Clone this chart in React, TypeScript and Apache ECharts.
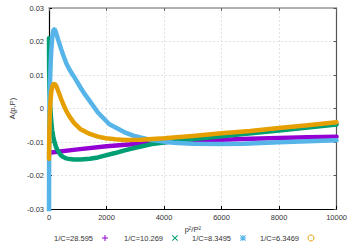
import React, { useEffect, useRef } from "react";
import * as echarts from "echarts";

const seriesNames = ["1/C=28.595", "1/C=10.269", "1/C=8.3495", "1/C=6.3469"];
const seriesColors = ["#9400d3", "#009e73", "#56b4e9", "#e69f00"];

const purpleP2 = [0, 1000, 2000, 3000, 4000, 5000, 6000, 7000, 8000, 9000, 10000];
const purpleA = [-0.0132, -0.0122, -0.0113, -0.0106, -0.01, -0.0096, -0.0093, -0.009, -0.0088, -0.0086, -0.0084];

const greenP2 = [0, 5, 15, 40, 70, 110, 150, 190, 240, 300, 360, 420, 500, 600, 720, 870, 1100, 1420, 1700, 1970, 2300, 2630, 3000, 3650, 4600, 5500, 6770, 8000, 9000, 10000];
const greenA = [0.021, 0.012, 0.006, 0.001, -0.003, -0.0065, -0.0085, -0.01, -0.0114, -0.0125, -0.0133, -0.014, -0.0145, -0.0149, -0.0151, -0.0152, -0.0152, -0.015, -0.0146, -0.014, -0.0133, -0.0125, -0.0117, -0.0105, -0.0095, -0.0087, -0.0076, -0.0066, -0.0057, -0.0048];

const blueP2 = [0, 3, 8, 15, 25, 40, 60, 80, 100, 120, 140, 160, 180, 210, 250, 320, 420, 500, 600, 720, 870, 1100, 1250, 1420, 1700, 2100, 2630, 3000, 3500, 4320, 5000, 6000, 6770, 8000, 9000, 10000];
const blueA = [-0.036, -0.02, -0.008, 0.0, 0.005, 0.009, 0.014, 0.0175, 0.0198, 0.0217, 0.0228, 0.0234, 0.0236, 0.0234, 0.0225, 0.0205, 0.0178, 0.0158, 0.0135, 0.0115, 0.0095, 0.0062, 0.0042, 0.0022, -0.0012, -0.0047, -0.0071, -0.0083, -0.0093, -0.0102, -0.0105, -0.0106, -0.0105, -0.0101, -0.0098, -0.0095];

const orangeP2 = [0, 5, 15, 30, 50, 80, 120, 150, 180, 210, 250, 320, 420, 500, 600, 720, 870, 1100, 1420, 1700, 1970, 2300, 2630, 3200, 4000, 5000, 6000, 7000, 8000, 9000, 10000];
const orangeA = [-0.015, -0.012, -0.006, -0.001, 0.002, 0.005, 0.0067, 0.0072, 0.0073, 0.0072, 0.0068, 0.0052, 0.0029, 0.0012, -0.0007, -0.0025, -0.0043, -0.0062, -0.0076, -0.0084, -0.0089, -0.0092, -0.0094, -0.0093, -0.0089, -0.0082, -0.0074, -0.0067, -0.0058, -0.005, -0.0041];

const xTicks = { min: 0, max: 10000, interval: 2000 };
const yTicks = { min: -0.03, max: 0.03, interval: 0.01 };
const legendLefts = [54, 124, 192, 260];

const legendIcons = [
  "path://M0,2.5h6v1h-6z M2.5,0h1v6h-1z",
  "path://M0,0.7L0.7,0L6,5.3L5.3,6Z M5.3,0L6,0.7L0.7,6L0,5.3Z",
  "path://M0,2.5h6v1h-6z M2.5,0h1v6h-1z M0,0.7L0.7,0L6,5.3L5.3,6Z M5.3,0L6,0.7L0.7,6L0,5.3Z",
  "circle",
];

const zip = (xs: number[], ys: number[]) => xs.map((x, i) => [x, ys[i]]);

const FONT = "Liberation Sans";

export default function App() {
  const ref = useRef<HTMLDivElement>(null);
  useEffect(() => {
    document.body.style.margin = "0";
    const chart = echarts.init(ref.current!, null, { renderer: "svg" });
    const datasets = [zip(purpleP2, purpleA), zip(greenP2, greenA), zip(blueP2, blueA), zip(orangeP2, orangeA)];
    const labelStyle = { fontSize: 7.5, color: "#333", fontFamily: FONT };
    chart.setOption({
      animation: false,
      backgroundColor: "#fff",
      grid: { left: 37, right: 13, top: 8, bottom: 36 },
      legend: seriesNames.map((n, i) => ({
        top: 234,
        left: legendLefts[i],
        padding: 0,
        align: "right",
        itemWidth: 6,
        itemHeight: 6,
        formatter: "{a|{name}}",
        textStyle: { ...labelStyle, rich: { a: { ...labelStyle, padding: [0, 4, 0, 0] } } },
        data: [
          {
            name: n,
            icon: legendIcons[i],
            itemStyle:
              i === 3
                ? { color: "rgba(0,0,0,0)", borderColor: seriesColors[i], borderWidth: 1 }
                : { color: seriesColors[i], borderWidth: 0 },
          },
        ],
      })),
      xAxis: [
        {
          type: "value",
          position: "bottom",
          ...xTicks,
          name: "p²/P²",
          nameLocation: "middle",
          nameGap: 12,
          nameTextStyle: labelStyle,
          axisLine: { onZero: false, lineStyle: { color: "#000", width: 1.2 } },
          axisTick: { inside: true, length: 3, lineStyle: { color: "#000" } },
          axisLabel: { ...labelStyle, margin: 4, formatter: (v: number) => String(v) },
          splitLine: { show: true, lineStyle: { color: "#d0d0d0", type: [2, 2], width: 0.6 } },
        },
        {
          type: "value",
          position: "top",
          ...xTicks,
          axisLine: { onZero: false, lineStyle: { color: "#999", width: 1.5 } },
          axisTick: { inside: true, length: 3, lineStyle: { color: "#666" } },
          axisLabel: { show: false },
          splitLine: { show: false },
        },
      ],
      yAxis: [
        {
          type: "value",
          position: "left",
          ...yTicks,
          name: "A(p,P)",
          nameLocation: "middle",
          nameRotate: 90,
          nameGap: 27,
          nameTextStyle: labelStyle,
          axisLine: { show: true, onZero: false, lineStyle: { color: "#000", width: 1.2 } },
          axisTick: { show: true, inside: true, length: 3, lineStyle: { color: "#000" } },
          axisLabel: { ...labelStyle, margin: 5, formatter: (v: number) => String(+v.toFixed(2)) },
          splitLine: { show: true, lineStyle: { color: "#d0d0d0", type: [2, 2], width: 0.6 } },
        },
        {
          type: "value",
          position: "right",
          ...yTicks,
          axisLine: { show: true, onZero: false, lineStyle: { color: "#555", width: 1.2 } },
          axisTick: { show: true, inside: true, length: 3, lineStyle: { color: "#555" } },
          axisLabel: { show: false },
          splitLine: { show: false },
        },
      ],
      series: seriesNames.map((n, i) => ({
        name: n,
        type: "line",
        xAxisIndex: 0,
        yAxisIndex: 0,
        data: datasets[i],
        showSymbol: false,
        symbol: "none",
        smooth: false,
        clip: true,
        color: seriesColors[i],
        lineStyle: { color: seriesColors[i], width: 4.5, join: "round", cap: "round" },
      })),
    });
    return () => chart.dispose();
  }, []);
  return <div ref={ref} style={{ width: 350, height: 245 }} />;
}
